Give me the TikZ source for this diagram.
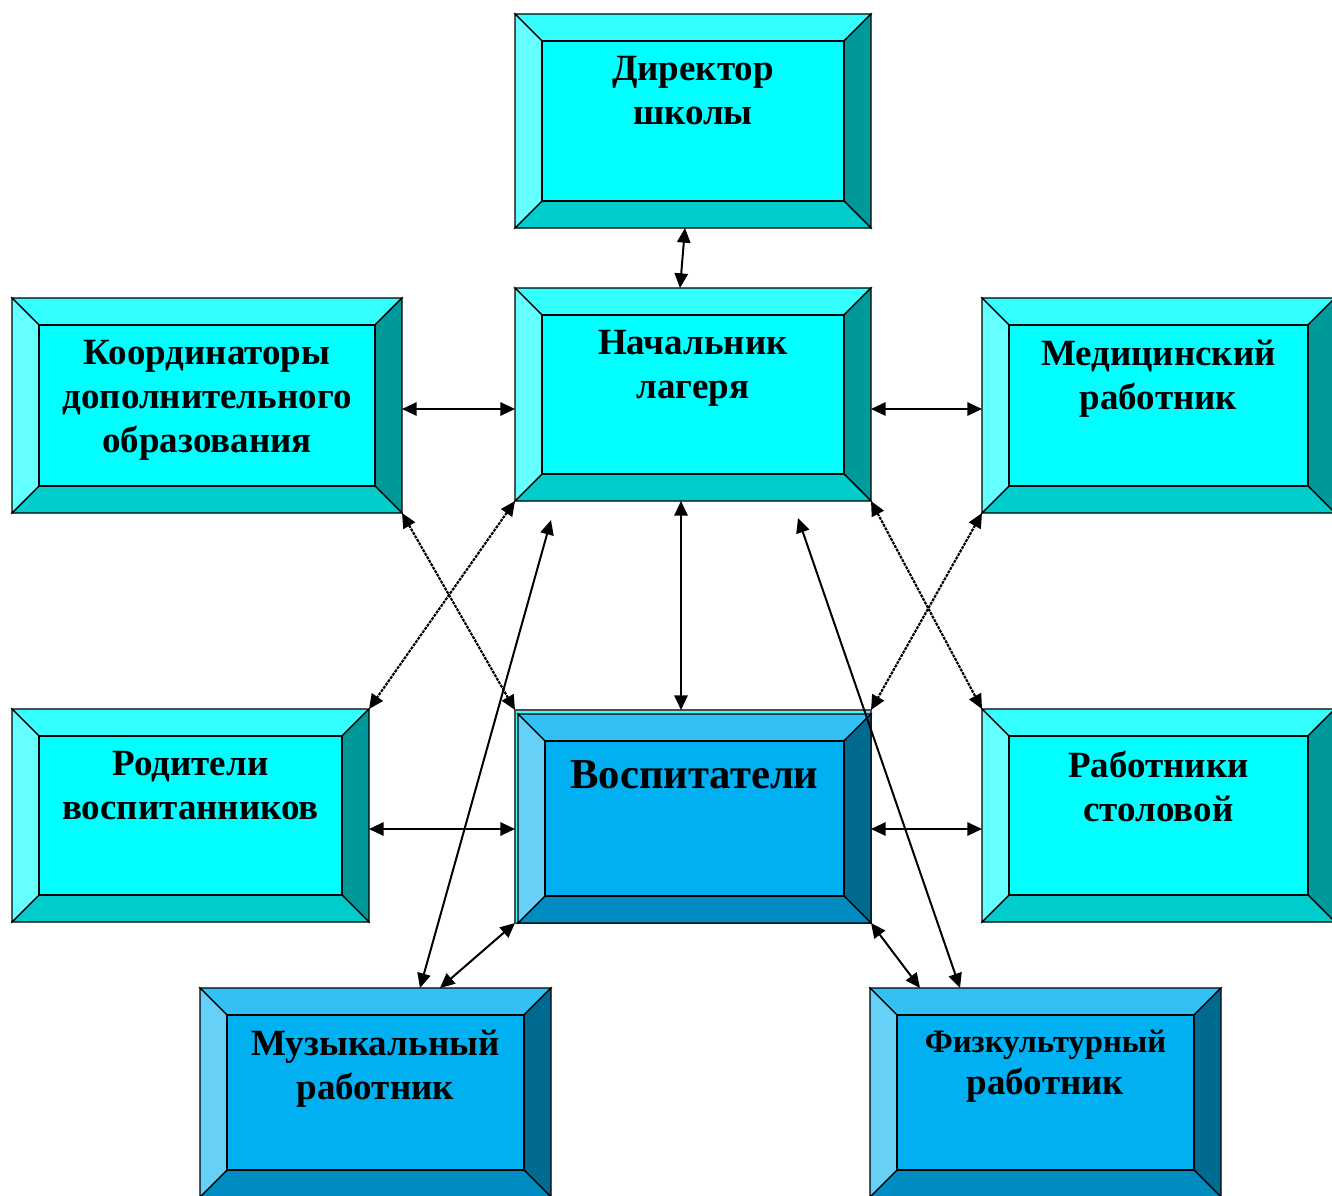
\documentclass[tikz,border=0pt]{standalone}
\usepackage{fontspec}
\setmainfont{Liberation Serif}
\usetikzlibrary{calc,arrows.meta}
\definecolor{cC}{RGB}{0,255,255}
\definecolor{cT}{RGB}{51,255,255}
\definecolor{cL}{RGB}{102,255,255}
\definecolor{cR}{RGB}{0,153,153}
\definecolor{cB}{RGB}{0,204,204}
\definecolor{bC}{RGB}{0,176,240}
\definecolor{bT}{RGB}{51,192,243}
\definecolor{bL}{RGB}{102,208,246}
\definecolor{bR}{RGB}{0,106,144}
\definecolor{bB}{RGB}{0,140,192}
\tikzset{
 boxanchor/.style={rectangle, inner sep=0pt, outer sep=0pt},
 bevelpart/.style={draw=black, line width=0.9pt, line join=miter},
 boxtext/.style={anchor=north, inner sep=0pt, align=center, font=\bfseries\fontsize{27.75}{33}\selectfont},
 linkarrow/.style={line width=1.5pt, {Triangle[length=11pt,width=10pt]}-{Triangle[length=11pt,width=10pt]}},
 dlinkarrow/.style={linkarrow, line width=1.6pt, dash pattern=on 2.2pt off 0.8pt},
}
% #1 name, #2 cx, #3 cy, #4 w, #5 h, #6 palette, #7 text, #8 text options
\newcommand\bevelbox[8]{%
 \node[boxanchor, minimum width=#4*0.75pt, minimum height=#5*0.75pt] (#1) at (#2,#3) {};
 \coordinate (#1-a) at ($(#1.north west)+(27,27)$);
 \coordinate (#1-b) at ($(#1.north east)+(-27,27)$);
 \coordinate (#1-c) at ($(#1.south east)+(-27,-27)$);
 \coordinate (#1-d) at ($(#1.south west)+(27,-27)$);
 \filldraw[bevelpart, fill=#6T] (#1.north west) -- (#1.north east) -- (#1-b) -- (#1-a) -- cycle;
 \filldraw[bevelpart, fill=#6R] (#1.north east) -- (#1.south east) -- (#1-c) -- (#1-b) -- cycle;
 \filldraw[bevelpart, fill=#6B] (#1.south east) -- (#1.south west) -- (#1-d) -- (#1-c) -- cycle;
 \filldraw[bevelpart, fill=#6L] (#1.south west) -- (#1.north west) -- (#1-a) -- (#1-d) -- cycle;
 \filldraw[fill=#6C, draw=black, line width=1.5pt] (#1-a) rectangle (#1-c);
 \node[boxtext, #8] (#1-t) at ($(#1.north)+(0,42)$) {#7};
}
\begin{document}
\begin{tikzpicture}[x=0.75pt, y=-0.75pt]
\useasboundingbox (0,0) rectangle (1332,1196);
\fill[white] (0,0) rectangle (1332,1196);
\clip (0,0) rectangle (1332,1196);

\bevelbox{dir}{693}{121}{356}{214}{c}{Директор\\школы}{}
\bevelbox{nach}{693}{394.5}{356}{213}{c}{Начальник\\лагеря}{}
\bevelbox{koord}{207}{405.5}{390}{215}{c}{Координаторы\\дополнительного\\образования}{}
\bevelbox{med}{1158.5}{405.5}{353}{215}{c}{Медицинский\\работник}{}
\bevelbox{rod}{190.5}{815.5}{357}{213}{c}{Родители\\воспитанников}{}
\bevelbox{stol}{1158.5}{815.5}{353}{213}{c}{Работники\\столовой}{}
\node[boxanchor, fill=cT, draw=black!70, line width=0.8pt, minimum width=356*0.75pt, minimum height=213*0.75pt] (vospback) at (693,816.5) {};
\bevelbox{vosp}{694.5}{818.5}{353}{209}{b}{Воспитатели}{font=\bfseries\fontsize{32}{38}\selectfont, yshift=-3pt}
\bevelbox{muz}{375.5}{1092.5}{351}{209}{b}{Музыкальный\\работник}{}
\bevelbox{fiz}{1045.5}{1092.5}{351}{209}{b}{{\fontsize{24.5}{29}\selectfont Физкультурный}\\работник}{font=\bfseries\fontsize{27.75}{31.5}\selectfont}

\coordinate (mfree) at ($(nach.south west)+(36,19)$);
\coordinate (ffree) at ($(nach.south east)+(-73,17)$);

\draw[linkarrow] ([xshift=-6pt]dir.south) -- ([xshift=-9.75pt]nach.north);
\draw[linkarrow] ($(koord.east)+(0,3.5)$) -- ($(nach.west)+(0,14.5)$);
\draw[linkarrow] ($(nach.east)+(0,14.5)$) -- ($(med.west)+(0,3.5)$);
\draw[linkarrow] ([xshift=-9pt]nach.south) -- ([xshift=-9pt]vospback.north);
\draw[dlinkarrow] (koord.south east) -- (vospback.north west);
\draw[dlinkarrow] (nach.south west) -- (rod.north east);
\draw[dlinkarrow] (nach.south east) -- (stol.north west);
\draw[dlinkarrow] (med.south west) -- (vospback.north east);
\draw[linkarrow] ($(rod.east)+(0,13.5)$) -- ($(vospback.west)+(0,12.5)$);
\draw[linkarrow] ($(vospback.east)+(0,12.5)$) -- ($(stol.west)+(0,13.5)$);
\draw[linkarrow] (vospback.south west) -- ($(muz.north)+(64.5,0)$);
\draw[linkarrow] (vospback.south east) -- ($(fiz.north)+(-125.5,0)$);
\draw[linkarrow] (mfree) -- ($(muz.north)+(44.5,0)$);
\draw[linkarrow] (ffree) -- ($(fiz.north)+(-85.5,0)$);
\end{tikzpicture}
\end{document}
